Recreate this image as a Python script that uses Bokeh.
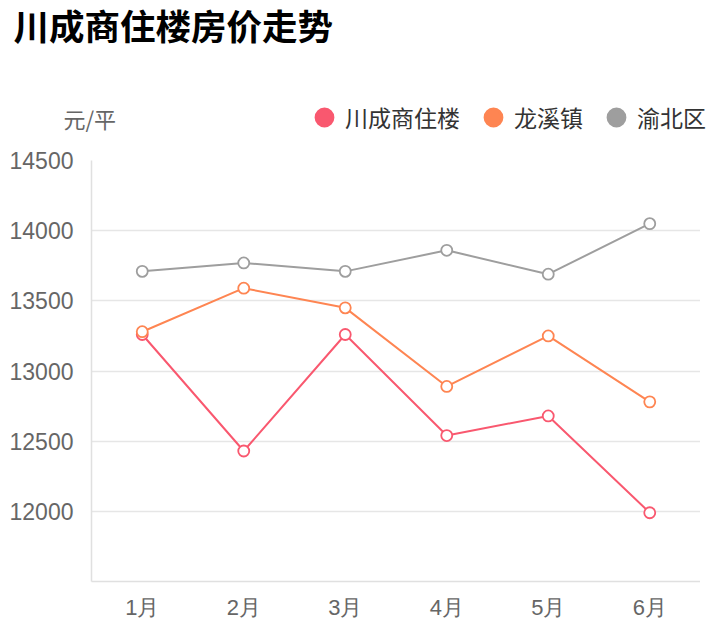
from bokeh.plotting import figure
from bokeh.models import FactorRange, Range1d, FixedTicker, Label, Legend, LegendItem
from bokeh.layouts import column
from bokeh.embed import file_html
from bokeh.resources import INLINE

months = ["1月", "2月", "3月", "4月", "5月", "6月"]
series_names = ["川成商住楼", "龙溪镇", "渝北区"]
chuancheng = [13260, 12430, 13260, 12540, 12680, 11990]
longxi = [13280, 13590, 13450, 12890, 13250, 12780]
yubei = [13710, 13770, 13710, 13860, 13690, 14050]
y_ticks = [12000, 12500, 13000, 13500, 14000, 14500]
title_text = "川成商住楼房价走势"
unit_text = "元/平"

colors = ["#f9586f", "#fe8552", "#9e9e9e"]
series = [chuancheng, longxi, yubei]

# ---- header (title, unit, legend) ----
HW, HH = 712, 145
head = figure(width=HW, height=HH, x_range=Range1d(0, HW), y_range=Range1d(HH, 0),
              output_backend="svg", toolbar_location=None,
              min_border=0)
head.frame_align = False
head.axis.visible = False
head.grid.visible = False
head.outline_line_color = None

items = []
for name, col in zip(series_names, colors):
    r = head.scatter(x=[float("nan")], y=[float("nan")], marker="circle",
                     fill_color=col, line_color=col, line_width=3)
    items.append(LegendItem(label=name, renderers=[r]))
legend = Legend(
    items=items, orientation="horizontal", location=(303, 7),
    glyph_width=42, glyph_height=42, label_standoff=0, spacing=12,
    padding=0, margin=0, border_line_color=None, background_fill_alpha=0,
    label_text_font="Noto Sans CJK SC", label_text_font_size="23px",
    label_text_color="#333333", label_text_baseline="middle",
)
head.add_layout(legend, "center")
head.add_layout(Label(x=13, y=24, text=title_text, text_font="Noto Sans CJK SC",
                      text_font_size="35.5px", text_font_style="bold", text_color="#000000",
                      text_baseline="middle", text_align="left"))
head.add_layout(Label(x=63, y=117, text=unit_text, text_font="Noto Sans CJK SC",
                      text_font_size="22px", text_color="#666666",
                      text_baseline="middle", text_align="left"))

# ---- main chart ----
p = figure(
    width=700, height=477,
    x_range=FactorRange(*months, range_padding=0),
    y_range=Range1d(11500, 14500),
    output_backend="svg", toolbar_location=None,
    min_border_left=91, min_border_right=0,
    min_border_top=15, min_border_bottom=36,
)
p.frame_align = False
p.outline_line_color = None

for ax in (p.xaxis[0], p.yaxis[0]):
    ax.major_tick_line_color = None
    ax.minor_tick_line_color = None
    ax.major_tick_out = 0
    ax.major_tick_in = 0
    ax.axis_line_color = "#e0e0e0"
    ax.axis_line_width = 1.5
    ax.major_label_text_color = "#666666"
    ax.major_label_text_font = "Liberation Sans"
p.xaxis[0].major_label_text_font_size = "22px"
p.yaxis[0].major_label_text_font_size = "23px"
p.yaxis[0].ticker = FixedTicker(ticks=y_ticks)
p.yaxis[0].major_label_standoff = 18
p.xaxis[0].major_label_standoff = 13
p.xgrid.grid_line_color = None
p.ygrid.grid_line_color = "#e6e6e6"
p.ygrid.grid_line_width = 1.5
p.ygrid.ticker = FixedTicker(ticks=y_ticks)

for vals, col in zip(series, colors):
    p.line(months, vals, line_color=col, line_width=2)
    p.scatter(months, vals, size=11, marker="circle", fill_color="white",
              line_color=col, line_width=1.8)

layout = column(head, p, spacing=0)
open("out.html", "w").write(file_html(layout, INLINE))
